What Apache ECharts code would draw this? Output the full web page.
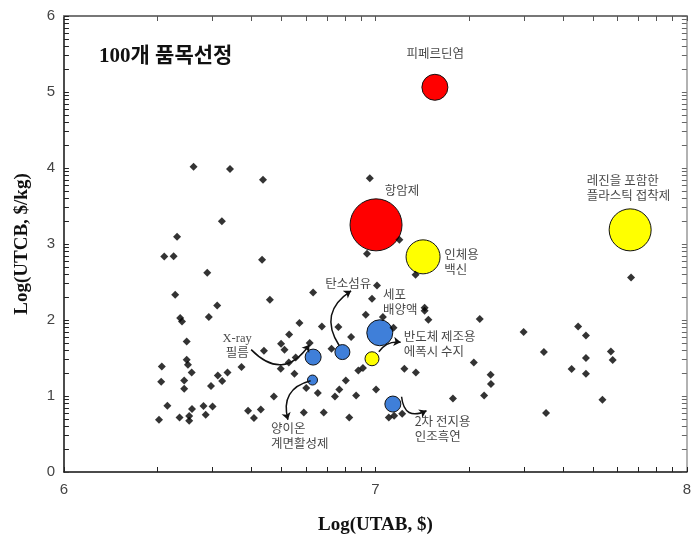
<!DOCTYPE html>
<html><head><meta charset="utf-8">
<script src="https://cdn.jsdelivr.net/npm/echarts@6/dist/echarts.min.js"></script>
<style>html,body{margin:0;padding:0;background:#fff}#c{width:694px;height:542px}</style>
</head><body><div id="c"></div>
<script>
// Small products: [Log(UTAB), Log(UTCB)]
const products = [
[6.416,4.018],[6.533,3.988],[6.639,3.845],[6.982,3.866],[6.507,3.300],[6.363,3.094],
[6.322,2.835],[6.352,2.840],[6.636,2.792],[6.973,2.871],[6.460,2.621],[6.357,2.331],
[6.492,2.191],[6.661,2.266],[6.800,2.362],[6.989,2.279],[7.005,2.454],[6.373,2.025],
[6.379,1.980],[6.465,2.038],[6.756,1.959],[6.828,1.915],[6.881,1.907],[6.969,2.068],
[6.394,1.717],[6.723,1.809],[6.789,1.696],[6.697,1.687],[6.708,1.608],[6.642,1.595],
[6.859,1.621],[6.922,1.775],[6.394,1.477],[6.398,1.411],[6.744,1.507],[6.722,1.441],
[6.314,1.389],[6.570,1.381],[6.696,1.358],[6.410,1.310],[6.525,1.310],[6.494,1.270],
[6.740,1.293],[6.945,1.336],[6.960,1.368],[6.312,1.187],[6.386,1.204],[6.508,1.197],
[6.905,1.204],[6.386,1.095],[6.472,1.131],[6.778,1.105],[6.884,1.086],[7.002,1.086],
[6.674,0.994],[6.815,1.039],[6.870,0.994],[6.938,1.007],[6.332,0.872],[6.411,0.828],
[6.448,0.868],[6.477,0.863],[6.455,0.753],[6.591,0.806],[6.632,0.823],[6.610,0.710],
[6.770,0.784],[6.834,0.784],[6.916,0.718],[6.305,0.688],[6.371,0.718],[6.402,0.675],
[6.402,0.736],[7.077,3.055],[7.129,2.595],[7.158,2.160],[7.024,2.038],[7.158,2.121],
[7.170,2.003],[7.335,2.012],[7.058,1.897],[7.093,1.358],[7.130,1.310],[7.316,1.441],
[7.370,1.279],[7.371,1.157],[7.349,1.007],[7.249,0.968],[7.043,0.718],[7.060,0.740],
[7.086,0.767],[7.476,1.841],[7.541,1.578],[7.651,1.915],[7.676,1.796],[7.676,1.499],
[7.630,1.354],[7.676,1.293],[7.756,1.586],[7.762,1.473],[7.729,0.951],[7.548,0.776],
[7.821,2.559]
];
// Selected products: [Log(UTAB), Log(UTCB), magnitude]
const redItems = [[7.191,5.062,13],[7.002,3.252,26]];
const yellowItems = [[7.153,2.831,17],[7.818,3.186,21],[6.989,1.490,7]];
const blueItems = [[7.014,1.832,13],[6.800,1.512,8],[6.894,1.578,7.5],[6.798,1.210,5],[7.056,0.894,8]];
// Annotation texts: [x, y, text, align]
const notes = [
[7.192,5.513,'피페르딘염','center'],
[7.030,3.712,'항암제','left'],
[7.221,2.772,'인체용\n백신','left'],
[7.679,3.745,'레진을 포함한\n플라스틱 접착제','left'],
[6.839,2.489,'탄소섬유','left'],
[7.024,2.246,'세포\n배양액','left'],
[7.091,1.687,'반도체 제조용\n에폭시 수지','left'],
[6.556,1.654,'X-ray\n필름','center'],
[6.665,0.477,'양이온\n계면활성제','left'],
[7.126,0.569,'2차 전지용\n인조흑연','left']
];
// Arrows: [x1,y1,x2,y2,curveness]
const arrows = [
[6.601,1.610,6.788,1.674,-0.6],
[6.884,1.661,6.922,2.384,0.5],
[6.792,1.200,6.719,0.688,-0.5],
[7.011,1.582,7.081,1.707,0.3],
[7.084,0.990,7.164,0.806,-0.7]
];
const xTicksMajor = [6,7,8];
const yTicksMajor = [0,1,2,3,4,5,6];

function logTicks(majors){
  const out=[];
  for(let i=0;i<majors.length-1;i++){
    for(let k=1;k<=9;k++) out.push(majors[i]+Math.log10(k));
  }
  out.push(majors[majors.length-1]);
  return out;
}
const xt = logTicks(xTicksMajor), yt = logTicks(yTicksMajor);
const X0=xTicksMajor[0], X1=xTicksMajor[xTicksMajor.length-1];
const Y0=yTicksMajor[0], Y1=yTicksMajor[yTicksMajor.length-1];
// tick length expressed in axis units (~5 px)
const TX = (X1-X0)*5/629, TY = (Y1-Y0)*5/456;

const chart = echarts.init(document.getElementById('c'));
const axisFont = {fontFamily:'Liberation Sans', fontSize:15, color:'#444'};
const nameFont = {fontFamily:'Liberation Serif', fontWeight:'bold', fontSize:19, color:'#111'};
const noteFont = {fontFamily:'Noto Sans CJK KR', fontSize:12.5, color:'#151515', lineHeight:15};

function bubble(items, color){
  return {
    type:'scatter', data:items, z:2,
    symbolSize: v => v[2]*2,
    itemStyle:{color:color, borderColor:'#111', borderWidth:1, opacity:1}
  };
}
function tickLines(segs, color){
  return {type:'lines', coordinateSystem:'cartesian2d', z:6, silent:true,
    symbol:['none','none'],
    data: segs.map(s=>({coords:s})),
    lineStyle:{color:color, width:1, opacity:1, curveness:0}};
}

chart.setOption({
  animation:false,
  title:{text:'100개 품목선정', left:94, top:41,
    textStyle:{fontFamily:'Liberation Serif, Noto Sans CJK KR', fontWeight:'bold', fontSize:21, color:'#111'}},
  grid:{left:64, top:16, width:629, height:456},
  xAxis:[
    {type:'value', min:X0, max:X1, interval:1, position:'bottom',
     name:'Log(UTAB, $)', nameLocation:'middle', nameGap:44, nameTextStyle:nameFont,
     axisLine:{lineStyle:{color:'#111', width:1.5}},
     axisTick:{show:false},
     axisLabel:{...axisFont, margin:10},
     splitLine:{show:false}},
    {type:'value', min:X0, max:X1, interval:1, position:'top',
     axisLine:{onZero:false, lineStyle:{color:'#777', width:2}},
     axisTick:{show:false},
     axisLabel:{show:false}, splitLine:{show:false}}
  ],
  yAxis:[
    {type:'value', min:Y0, max:Y1, interval:1, position:'left',
     name:'Log(UTCB, $/kg)', nameLocation:'middle', nameGap:32, nameTextStyle:nameFont,
     axisLine:{show:true, lineStyle:{color:'#111', width:1.5}},
     axisTick:{show:false},
     axisLabel:{...axisFont, margin:9},
     splitLine:{show:false}},
    {type:'value', min:Y0, max:Y1, interval:1, position:'right',
     axisLine:{show:true, onZero:false, lineStyle:{color:'#999', width:1.5}},
     axisTick:{show:false},
     axisLabel:{show:false}, splitLine:{show:false}}
  ],
  series:[
    bubble(redItems,'#ff0000'),
    bubble(yellowItems,'#ffff00'),
    bubble(blueItems,'#3f7fd9'),
    {type:'scatter', data:products, symbol:'diamond', symbolSize:8, z:3,
     itemStyle:{color:'#000'}},
    {type:'lines', coordinateSystem:'cartesian2d', z:4,
     symbol:['none','arrow'], symbolSize:7,
     data: arrows.map(a=>({coords:[[a[0],a[1]],[a[2],a[3]]], lineStyle:{curveness:a[4]}})),
     lineStyle:{color:'#111', width:1.5, opacity:1}},
    {type:'scatter', symbolSize:0, z:5, silent:true,
     data: notes.map(n=>({value:[n[0],n[1]], name:n[2],
        label:{show:true, position:'inside', align:n[3], verticalAlign:'middle',
          formatter:n[2], ...noteFont,
          fontFamily: n[2].startsWith('X-ray') ? 'Liberation Serif, Noto Sans CJK KR' : 'Noto Sans CJK KR'}}))},
    // axis tick marks (log-spaced minor ticks)
    tickLines(xt.map(v=>[[v,Y0],[v,Y0+TY]]), '#222'),
    tickLines(xt.map(v=>[[v,Y1],[v,Y1-TY]]), '#555'),
    tickLines(yt.map(v=>[[X0,v],[X0+TX,v]]), '#222'),
    tickLines(yt.map(v=>[[X1,v],[X1-TX,v]]), '#666')
  ]
});
</script>
</body></html>
